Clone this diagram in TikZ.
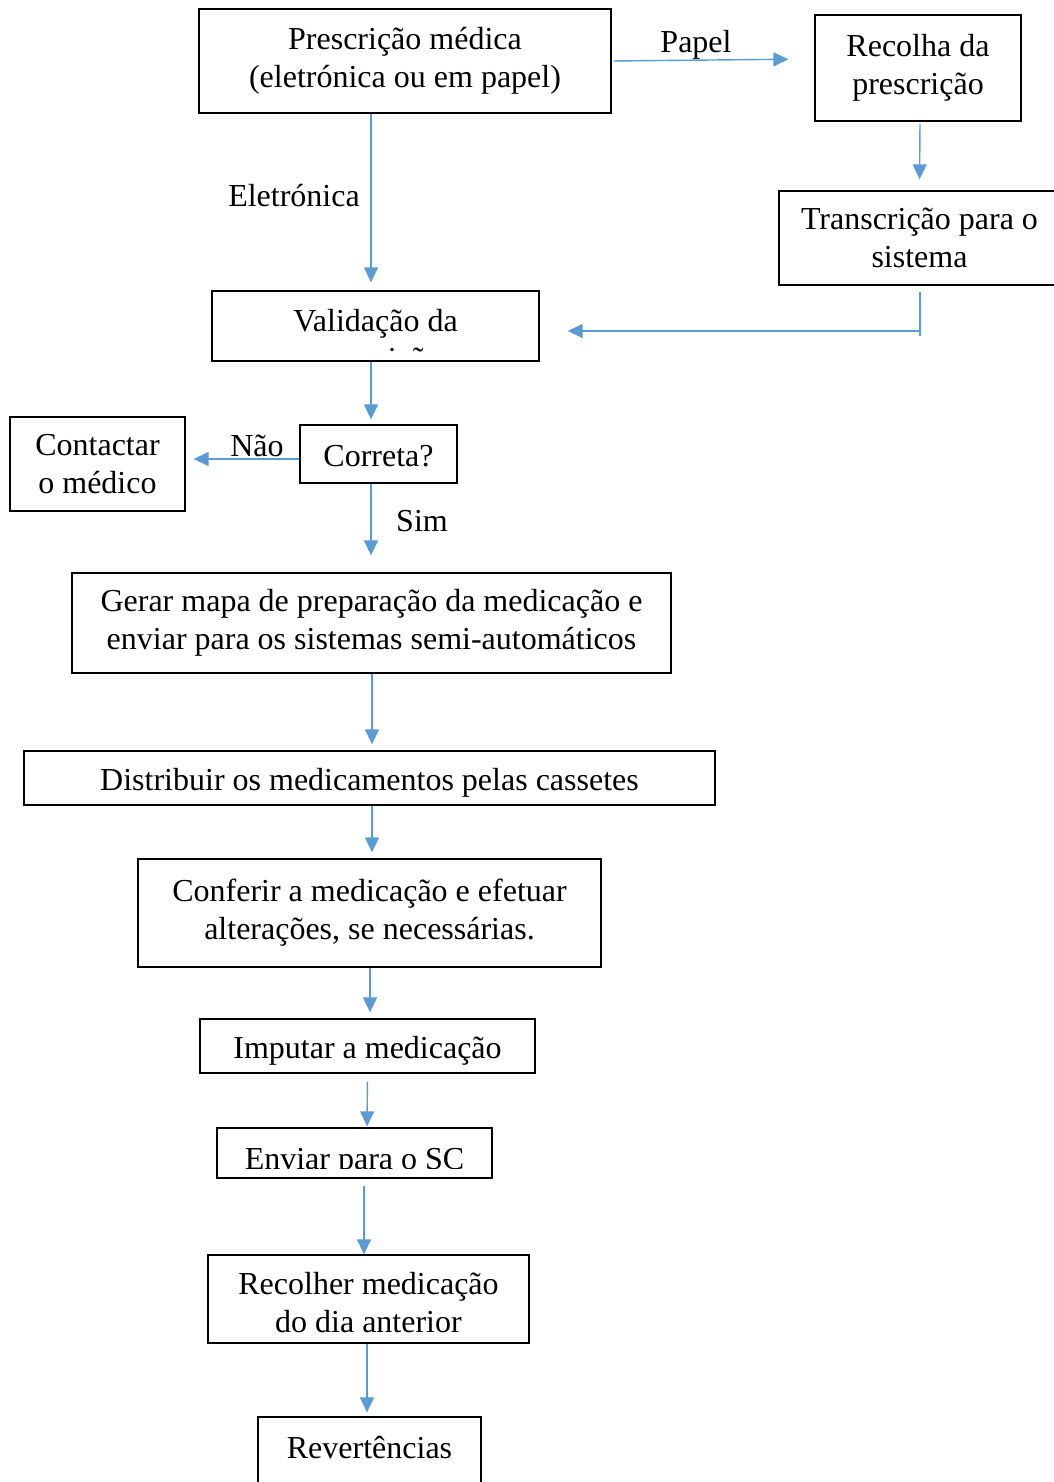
\documentclass[tikz,border=0pt]{standalone}
\usepackage{fontspec}
\setmainfont{Liberation Serif}
\usetikzlibrary{arrows.meta}
\definecolor{flow}{HTML}{5B9BD5}
\begin{document}
\begin{tikzpicture}[x=1pt,y=-1pt,
  txt/.style={font=\fontsize{32}{38}\selectfont, inner sep=0pt, align=center},
  box/.style={txt, draw=black, line width=1.3pt, rectangle},
  oneline/.style={text height=33pt, text depth=8pt},
  wire/.style={draw=flow, line width=1.4pt},
  conn/.style={wire, -{Triangle[length=15pt,width=14pt]}}]
\useasboundingbox (0,0) rectangle (1053,1482);

% process boxes
\node[box, minimum width=412pt, minimum height=104pt] (presc) at (405,61) {Prescrição médica\\(eletrónica ou em papel)};
\node[box, minimum width=206pt, minimum height=106pt] (recolha) at (918,68) {Recolha da\\prescrição};
\node[box, minimum width=281pt, minimum height=94pt] (transc) at (919.5,238) {Transcrição para o\\sistema};
\node[box, minimum width=327pt, minimum height=70pt] (valid) at (375.5,326) {};
\begin{scope}
  \clip (212,291) rectangle (539,352);
  \node[txt, anchor=base] (validT) at (375.5,369) {Validação da\\prescrição};
\end{scope}
\node[box, oneline, minimum width=157pt, minimum height=58pt] (correta) at (378.5,454) {Correta?};
\node[box, minimum width=175pt, minimum height=94pt] (contact) at (97.5,464) {Contactar\\o médico};
\node[box, minimum width=599pt, minimum height=100pt] (gerar) at (371.5,623) {Gerar mapa de preparação da medicação e\\enviar para os sistemas semi-automáticos};
\node[box, oneline, minimum width=691pt, minimum height=54pt] (distrib) at (369.5,778) {Distribuir os medicamentos pelas cassetes};
\node[box, minimum width=463pt, minimum height=108pt] (conferir) at (369.5,913) {Conferir a medicação e efetuar\\alterações, se necessárias.};
\node[box, oneline, minimum width=335pt, minimum height=54pt] (imputar) at (367.5,1046) {Imputar a medicação};
\node[box, minimum width=275pt, minimum height=50pt] (enviar) at (354.5,1153) {};
\begin{scope}
  \clip (217,1128) rectangle (492,1168);
  \node[txt, anchor=base] (enviarT) at (354.5,1169) {Enviar para o SC};
\end{scope}
\node[box, minimum width=321pt, minimum height=88pt] (recolher) at (368.5,1299) {};
\node[txt] (recolherT) at (368.5,1303) {Recolher medicação\\do dia anterior};
\node[box, minimum width=223pt, minimum height=83pt] (revert) at (369.5,1458.5) {};
\node[txt] (revertT) at (369.5,1448) {Revertências};

% branch labels
\node[txt] (lpapel) at (696,45) {Papel};
\node[txt] (lele) at (294,196) {Eletrónica};
\node[txt] (lnao) at (257,446) {Não};
\node[txt] (lsim) at (422,521) {Sim};

% connectors
\draw[conn, shorten <=2pt, shorten >=26pt] (presc.east) -- ([yshift=9pt]recolha.west);
\draw[conn, shorten <=2pt, shorten >=11pt] ([xshift=2pt]recolha.south) -- (transc.north);
\draw[conn, shorten >=8pt] ([xshift=-34pt]presc.south) -- ([xshift=-4.5pt]valid.north);
\coordinate (jn) at (920,331);
\draw[wire, shorten <=6pt] ([xshift=.5pt]transc.south) -- ([yshift=-5pt]jn);
\draw[conn, shorten >=28pt] (jn) -- (valid.east |- jn);
\draw[conn, shorten >=5pt] ([xshift=-4.5pt]valid.south) -- ([xshift=-7.5pt]correta.north);
\draw[conn, shorten >=8pt] ([yshift=-5pt]correta.west) -- ([yshift=5pt]contact.east);
\draw[conn, shorten >=17pt] ([xshift=-7.5pt]correta.south) -- ([xshift=-.5pt]gerar.north);
\draw[conn, shorten >=6pt] ([xshift=.5pt]gerar.south) -- ([xshift=2.5pt]distrib.north);
\draw[conn, shorten >=6pt] ([xshift=2.5pt]distrib.south) -- ([xshift=2.5pt]conferir.north);
\draw[conn, shorten >=6pt] ([xshift=.5pt]conferir.south) -- ([xshift=2.5pt]imputar.north);
\draw[conn, shorten <=8pt, shorten >=1pt] (imputar.south) -- ([xshift=12.5pt]enviar.north);
\draw[conn, shorten <=7pt] ([xshift=9.5pt]enviar.south) -- ([xshift=-4.5pt]recolher.north);
\draw[conn, shorten >=4pt] ([xshift=-1.5pt]recolher.south) -- ([xshift=-2.5pt]revert.north);
\end{tikzpicture}
\end{document}
